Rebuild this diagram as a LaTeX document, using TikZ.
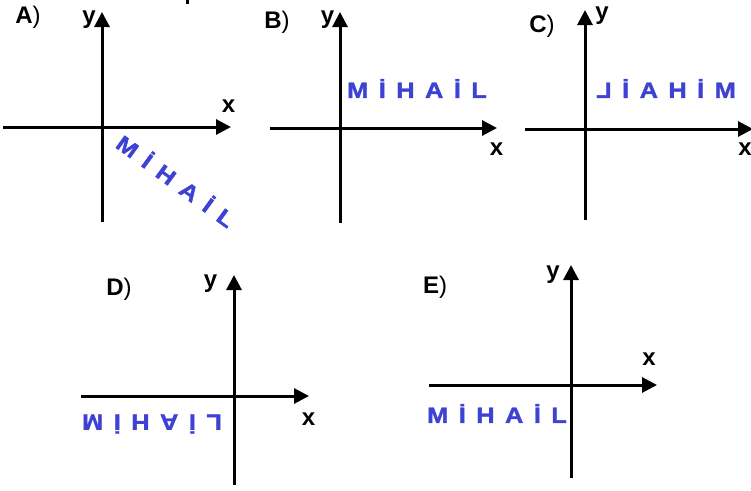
\documentclass[tikz,border=0pt]{standalone}
\usepackage{fontspec}
\usepackage{graphicx}
\setmainfont{Liberation Sans}
\newfontfamily\wordfont[FakeStretch=1.15, FakeBold=1.5]{Liberation Sans}
\usetikzlibrary{arrows.meta}
\definecolor{wordblue}{RGB}{62,66,210}
\newcommand{\gap}{\hspace{10.5pt}}
\newcommand{\mihail}[1][L]{M\gap İ\gap H\gap A\gap İ\gap #1}

\begin{document}
\begin{tikzpicture}[x=1pt, y=-1pt,
		axis/.style={line width=3pt, -{Triangle[length=15pt,width=15pt]}},
		lbl/.style={font=\fontsize{24}{24}\selectfont\bfseries, inner sep=0pt, anchor=base},
		tag/.style={font=\fontsize{24}{24}\selectfont, inner sep=0pt, anchor=base},
		word/.style={text=wordblue, font=\wordfont\fontsize{22}{22}\selectfont\bfseries, inner sep=0pt, text height=15.7pt, text depth=0pt}]
		%%%%% START %%%%%
		
		\fill[white] (0, 0) rectangle (751, 490);
		\useasboundingbox (0, 0) rectangle (751, 490);
		\fill[black] (186, 0) rectangle (189, 4);
		
		% A
		\draw[axis] (3, 127) -- (231, 127);
		\draw[axis] (102, 222) -- (102, 12);
		\node[tag] (tagA) at (28, 23) {\textbf{A})};
		\node[lbl] (yA) at (89, 23) {y};
		\node[lbl] (xA) at (228.5, 112) {x};
		\node[word, rotate=-36] (wordA) at (175.5, 181.5) {\mihail};
		
		% B
		\draw[axis] (270, 128) -- (497, 128);
		\draw[axis] (340, 223) -- (340, 12);
		\node[tag] (tagB) at (277, 28) {\textbf{B})};
		\node[lbl] (yB) at (327.5, 23) {y};
		\node[lbl] (xB) at (496.5, 155) {x};
		\node[word] (wordB) at (417, 90) {\mihail};
		
		% C
		\draw[axis] (525, 129) -- (753, 129);
		\draw[axis] (585, 220) -- (585, 10);
		\node[tag] (tagC) at (542, 32) {\textbf{C})};
		\node[lbl] (yC) at (602, 19) {y};
		\node[lbl] (xC) at (745, 155) {x};
		\node[word, xscale=-1] (wordC) at (666, 90) {\mihail};
		
		% D
		\draw[axis] (81, 396) -- (309, 396);
		\draw[axis] (234, 485) -- (234, 275);
		\node[tag] (tagD) at (119, 295) {\textbf{D})};
		\node[lbl] (yD) at (210.5, 287) {y};
		\node[lbl] (xD) at (308.5, 425) {x};
		\node[word, yscale=-1] (wordD) at (152, 422.5) {\mihail[\reflectbox{L}]};
		
		% E
		\draw[axis] (429, 385) -- (657, 385);
		\draw[axis] (571, 478) -- (571, 265);
		\node[tag] (tagE) at (435, 293) {\textbf{E})};
		\node[lbl] (yE) at (553, 278) {y};
		\node[lbl] (xE) at (649, 365) {x};
		\node[word] (wordE) at (497, 415) {\mihail};
		
		%%%%% END %%%%%
	\end{tikzpicture}
\end{document}
